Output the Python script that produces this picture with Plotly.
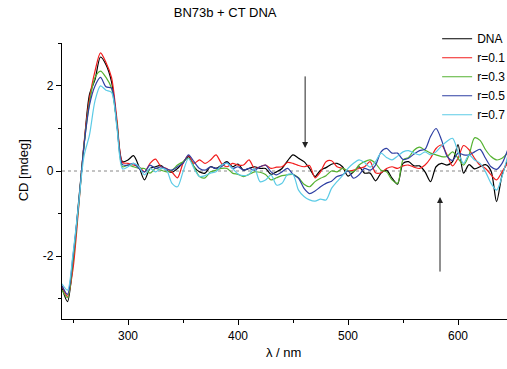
import plotly.graph_objects as go

# wavelength grid (nm)
wavelength = list(range(240, 650, 5))

cd_dna = [-2.75, -3.07, -2.15, -0.75, 0.6, 1.8, 2.15, 2.68, 2.5, 2.1, 1.1, 0.22,
          0.26, 0.36, 0.10, -0.21, 0.06, 0.10, 0.13, 0.02, -0.03, 0.06, 0.20, 0.34, 0.10, -0.02, -0.05, 0.10, 0.06, 0.14, 0.22, 0.10, 0.16,
          0.02, 0.06, 0.10, 0.06, 0.06, -0.08, -0.02, 0.06, 0.24, 0.38, 0.30, 0.22, 0.06, -0.13, 0.02, 0.08, 0.16, 0.18, 0.10, -0.12,
          -0.02, 0.10, -0.05, -0.05, -0.23, -0.05, 0.02, -0.17, -0.31, 0.18, 0.22, 0.12, 0.12, -0.02, -0.25, 0.10, 0.18, 0.14, 0.22, 0.62,
          -0.05, 0.15, 0.05, 0.10, 0.15, 0.0, -0.72, -0.10, 0.25]

cd_r01 = [-2.7, -2.95, -2.3, -0.9, 0.65, 1.7, 2.35, 2.78, 2.55, 2.2, 1.2, 0.2,
          0.18, 0.14, 0.10, -0.02, 0.18, 0.28, 0.10, 0.06, -0.03, -0.16, 0.18, 0.36, 0.18, 0.26, 0.18, 0.26, 0.38, 0.18, 0.10, 0.18, 0.14,
          0.14, 0.26, 0.06, 0.10, 0.14, 0.06, 0.09, 0.10, 0.20, 0.18, 0.13, 0.10, 0.13, -0.16, -0.02, 0.22, 0.24, 0.10, 0.06, 0.0,
          0.02, 0.06, 0.10, 0.22, -0.04, -0.04, 0.06, 0.10, 0.06, 0.12, 0.14, 0.09, 0.06, 0.14, 0.30, 0.53, 0.61, 0.38, 0.12, 0.30,
          0.6, 0.5, 0.30, 0.14, 0.06, -0.09, -0.21, -0.02, 0.18]

cd_r03 = [-2.8, -2.98, -2.1, -0.85, 0.6, 1.6, 2.2, 2.35, 2.2, 1.95, 1.1, 0.1,
          0.14, 0.10, 0.06, 0.06, -0.05, 0.06, 0.02, -0.02, 0.02, 0.14, 0.22, 0.30, 0.10, -0.13, -0.16, -0.02, 0.02, 0.06, 0.06, -0.05, -0.08,
          -0.13, -0.08, -0.02, -0.03, -0.08, -0.21, -0.16, -0.11, -0.09, -0.08, -0.16, -0.31, -0.37, -0.25, -0.17, -0.11, 0.0, -0.02, 0.06, 0.0,
          -0.02, 0.14, 0.22, 0.26, 0.18, 0.02, -0.02, -0.21, -0.29, 0.26, 0.32, 0.49, 0.56, 0.49, 0.42, 0.38, 0.34, 0.34, 0.45, 0.30,
          0.14, 0.38, 0.78, 0.72, 0.50, 0.34, 0.26, 0.30, 0.42]

cd_r05 = [-2.7, -2.9, -2.0, -0.8, 0.6, 1.55, 2.0, 2.2, 1.98, 1.95, 1.05, 0.15,
          0.14, 0.18, 0.06, -0.02, 0.14, 0.06, 0.10, 0.05, 0.02, 0.10, 0.18, 0.38, 0.22, 0.06, 0.02, 0.10, 0.06, 0.10, 0.20, 0.06, 0.10,
          0.02, 0.06, 0.02, 0.10, 0.14, -0.02, -0.09, -0.02, 0.06, -0.08, -0.17, -0.41, -0.53, -0.47, -0.37, -0.29, -0.24, -0.13, -0.09, 0.0,
          -0.17, -0.09, 0.06, 0.02, 0.14, 0.45, 0.53, 0.42, 0.42, 0.27, 0.30, 0.40, 0.48, 0.51, 0.81, 1.0, 0.73, 0.35, 0.25, 0.42,
          0.38, 0.38, 0.45, 0.51, 0.30, 0.10, 0.04, 0.18, 0.49]

cd_r07 = [-2.65, -2.8, -1.95, -0.8, 0.35, 0.85, 1.65, 2.0, 1.9, 1.85, 1.0, 0.05,
          0.10, 0.18, 0.10, -0.09, 0.06, -0.02, 0.06, 0.02, -0.29, -0.37, -0.02, 0.30, 0.06, -0.13, -0.11, -0.05, -0.02, 0.14, 0.18, 0.06, -0.07,
          -0.11, -0.08, 0.06, -0.25, -0.21, -0.09, -0.33, -0.29, -0.08, -0.08, -0.45, -0.60, -0.68, -0.71, -0.66, -0.68, -0.41, -0.25, -0.11, 0.06,
          0.18, 0.26, 0.20, 0.09, 0.22, 0.42, 0.32, 0.26, 0.35, 0.45, 0.48, 0.42, 0.38, 0.45, 0.38, 0.45, 0.59, 0.70, 0.77, 0.45,
          0.18, 0.38, 0.26, 0.18, -0.02, -0.29, -0.45, -0.13, 0.34]

series_names = ["DNA", "r=0.1", "r=0.3", "r=0.5", "r=0.7"]
series_values = [cd_dna, cd_r01, cd_r03, cd_r05, cd_r07]
series_colors = ["#000000", "#f21d1d", "#55b232", "#2e3fa3", "#5ccbe6"]

# arrows (wavelength, tail value, head value)
arrow_down = (461, 2.26, 0.54)
arrow_up = (583.6, -2.4, -0.61)

fig = go.Figure()
for name, vals, col in zip(series_names, series_values, series_colors):
    fig.add_trace(go.Scatter(x=wavelength, y=vals, mode="lines", name=name,
                             line=dict(color=col, width=1.2, shape="spline", smoothing=0.8)))

fig.add_shape(type="line", xref="paper", x0=0, x1=1, yref="y", y0=0, y1=0,
              line=dict(color="#888888", width=1, dash="dot"), layer="below")

for (ax_x, tail, head) in [arrow_down, arrow_up]:
    fig.add_annotation(x=ax_x, y=head, ax=ax_x, ay=tail, xref="x", yref="y",
                       axref="x", ayref="y", showarrow=True, arrowhead=2,
                       arrowsize=1.2, arrowwidth=1, arrowcolor="#222222", text="")

font_family = "Liberation Sans, Arial, sans-serif"

fig.add_annotation(text="CD [mdeg]", textangle=-90, xref="paper", yref="paper",
                   x=-0.106, y=0.54, showarrow=False, font=dict(size=13, color="#000"))
fig.add_annotation(text="λ / nm", xref="paper", yref="paper",
                   x=0.497, y=-0.155, showarrow=False, font=dict(size=13, color="#000"))

fig.update_layout(
    width=507, height=369,
    margin=dict(l=62, r=0, t=43, b=50, autoexpand=False),
    paper_bgcolor="white", plot_bgcolor="white",
    font=dict(family=font_family, size=12, color="#000"),
    title=dict(text="BN73b + CT DNA", x=0.444, xref="container", xanchor="center",
               y=0.967, yref="container", yanchor="middle", font=dict(size=13)),
    showlegend=True,
    legend=dict(x=0.843, xanchor="left", y=1.068, yanchor="top",
                bgcolor="rgba(0,0,0,0)", borderwidth=0, font=dict(size=12),
                tracegroupgap=0),
)

fig.update_xaxes(range=[240, 644.5], showline=True, linecolor="#000", linewidth=1.2,
                 ticks="outside", ticklen=5, tickcolor="#000", tickwidth=1,
                 tickvals=[300, 400, 500, 600], showgrid=False, zeroline=False,
                 minor=dict(ticks="outside", ticklen=3, tickvals=[250, 350, 450, 550], tickcolor="#000"),
                 mirror=False)
fig.update_yaxes(range=[-3.48, 3.01], showline=True, linecolor="#000", linewidth=1.2,
                 ticks="outside", ticklen=5, tickcolor="#000", tickwidth=1,
                 tickvals=[-2, 0, 2], ticktext=["-2", "0", "2"], showgrid=False, zeroline=False,
                 minor=dict(ticks="outside", ticklen=3, tickvals=[-3, -1, 1, 3], tickcolor="#000"))

fig.write_html("out.html", config={"displayModeBar": False},
               post_script="document.body.style.margin='0';document.body.style.overflow='hidden';")
